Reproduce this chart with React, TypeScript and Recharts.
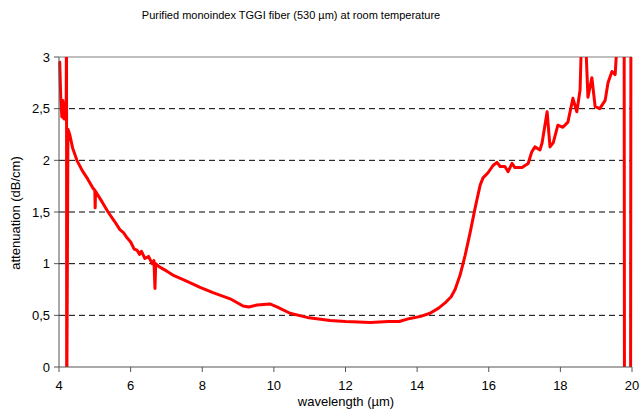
import React from "react";
import { LineChart, Line, XAxis, YAxis, ReferenceLine } from "recharts";

const wavelength: number[] = [
  4.02, 4.05, 4.08, 4.11, 4.14, 4.17, 4.2, 4.21, 4.215, 4.25, 4.3, 4.38, 4.5, 4.65, 4.8, 4.95, 5.0, 5.01, 5.02,
  5.2, 5.37, 5.55, 5.7, 5.8, 5.9, 6.0, 6.1, 6.18, 6.25, 6.3, 6.4, 6.5, 6.6, 6.65, 6.68, 6.7, 6.8, 6.9, 7.0,
  7.18, 7.5, 7.94, 8.3, 8.78, 9.14, 9.3, 9.53, 9.89, 10.1, 10.45, 10.93, 11.57, 12.0, 12.7, 13.2, 13.5, 13.8,
  14.1, 14.36, 14.6, 14.78, 14.95, 15.06, 15.2, 15.34, 15.48, 15.62, 15.76, 15.84, 15.98, 16.12, 16.23, 16.32,
  16.45, 16.54, 16.65, 16.73, 16.93, 17.1, 17.2, 17.29, 17.43, 17.49, 17.63, 17.71, 17.8, 17.93, 18.07, 18.21,
  18.35, 18.46, 18.55, 18.6, 18.69, 18.77, 18.88, 18.97, 19.1, 19.25, 19.33, 19.44, 19.53, 19.61, 19.78, 19.79,
  19.96, 19.97, 20.0,
];

const attenuation: number[] = [
  2.95, 2.6, 2.42, 2.58, 2.4, 2.55, 2.42, 3.5, -0.5, 2.3, 2.25, 2.12, 2.0, 1.9, 1.82, 1.73, 1.71, 1.54, 1.7,
  1.6, 1.5, 1.41, 1.33, 1.3, 1.25, 1.21, 1.14, 1.13, 1.09, 1.12, 1.05, 1.07, 1.0, 1.03, 0.76, 1.0, 0.97, 0.95, 0.93,
  0.89, 0.84, 0.77, 0.72, 0.66, 0.59, 0.58, 0.6, 0.61, 0.58, 0.52, 0.48, 0.45, 0.44, 0.43, 0.44, 0.44, 0.47,
  0.49, 0.52, 0.57, 0.62, 0.68, 0.75, 0.89, 1.08, 1.3, 1.54, 1.76, 1.83, 1.88, 1.95, 1.98, 1.94,
  1.94, 1.89, 1.97, 1.93, 1.93, 1.97, 2.08, 2.13, 2.1, 2.17, 2.47, 2.13, 2.17, 2.34, 2.32, 2.37,
  2.6, 2.47, 2.68, 3.3, 3.3, 2.61, 2.8, 2.52, 2.5, 2.58, 2.75, 2.86, 2.83, 3.3, 3.5, -0.5,
  -0.5, 3.5, 3.5,
];

const xTicks: number[] = [4, 6, 8, 10, 12, 14, 16, 18, 20];
const yTicks: number[] = [0, 0.5, 1, 1.5, 2, 2.5, 3];
const dashedGrid: number[] = [0.5, 1, 1.5, 2, 2.5];

const title = "Purified monoindex TGGI fiber (530 µm) at room temperature";
const xTitle = "wavelength (µm)";
const yTitle = "attenuation (dB/cm)";

const data = wavelength.map((w, i) => ({ w, a: attenuation[i] }));

const FONT = "'Liberation Sans', Arial, sans-serif";

export default function App() {
  return (
    <div style={{ position: "absolute", left: 0, top: 0, width: 642, height: 417, background: "#fff" }}>
      <LineChart width={642} height={417} data={data} margin={{ top: 57, right: 10, left: 0, bottom: 0 }}>
        <XAxis
          dataKey="w"
          type="number"
          domain={[4, 20]}
          ticks={xTicks}
          interval={0}
          height={50}
          stroke="#555"
          tickSize={5}
          tickMargin={9}
          tick={{ fill: "#000", fontSize: 13, fontFamily: FONT }}
        />
        <YAxis
          type="number"
          domain={[0, 3]}
          ticks={yTicks}
          interval={0}
          allowDataOverflow
          width={59}
          stroke="#555"
          tickSize={5}
          tickMargin={4}
          tickFormatter={(v: number) => String(v).replace(".", ",")}
          tick={{ fill: "#000", fontSize: 13, fontFamily: FONT }}
        />
        {dashedGrid.map((g) => (
          <ReferenceLine key={g} y={g} stroke="#000" strokeDasharray="6 4" strokeWidth={1} />
        ))}
        <ReferenceLine y={3} stroke="#aaa" strokeWidth={1.5} />
        <Line
          dataKey="a"
          type="linear"
          stroke="#ff0000"
          strokeWidth={3}
          strokeLinejoin="round"
          strokeLinecap="round"
          dot={false}
          isAnimationActive={false}
        />
        <text x={291} y={19} textAnchor="middle" fontSize={11} fontFamily={FONT} fill="#000">
          {title}
        </text>
        <text x={346} y={406} textAnchor="middle" fontSize={13} fontFamily={FONT} fill="#000">
          {xTitle}
        </text>
        <text
          x={15}
          y={213}
          textAnchor="middle"
          dominantBaseline="central"
          transform="rotate(-90, 15, 213)"
          fontSize={13}
          fontFamily={FONT}
          fill="#000"
        >
          {yTitle}
        </text>
      </LineChart>
    </div>
  );
}
